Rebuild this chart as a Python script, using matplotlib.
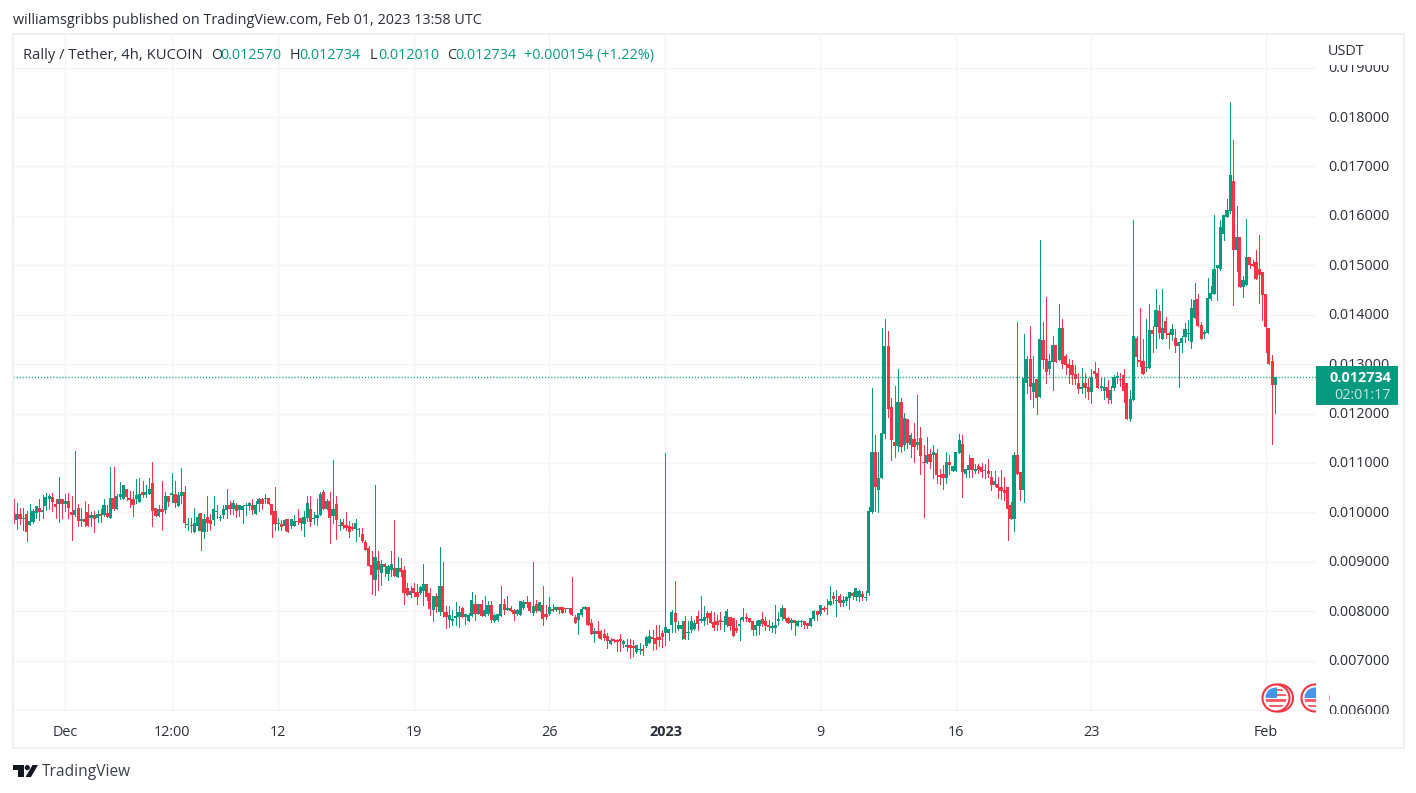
import pandas as pd
import matplotlib
matplotlib.use('Agg')
import matplotlib.pyplot as plt
from matplotlib.patches import Circle, Rectangle, Polygon
from matplotlib.transforms import ScaledTranslation

# 4h candles, prices in millionths of USDT
opens = [
    10020,9840,9960,9860,9960,9740,9800,9990,10090,10000,
    10120,10260,10320,10160,10160,10280,10160,10220,10000,9940,
    10080,9820,9860,10000,9880,9940,9880,9960,9940,9980,
    9880,10300,10060,10310,10280,10470,10300,10260,10280,10200,
    10420,10360,10380,10590,10080,9920,10060,10040,10340,10360,
    10380,10120,10340,10420,9740,9740,9600,9720,9980,9600,
    9900,9840,9840,10000,
    9880,9940,10040,10140,10060,10150,10040,10040,10120,10120,
    10140,9960,10160,10280,10260,10300,10160,10020,9770,9770,
    9720,9860,9720,9720,9810,9880,9760,9880,10060,9870,
    9880,9940,10420,10060,10220,9920,10160,9720,9800,9740,
    9720,9700,9660,9650,9570,9410,9270,8930,8640,9010,
    8780,8950,8760,8830,8870,8700,8870,8830,8460,8320,
    8460,8380,8360,8400,8540,8360,8020,8300,
    7975,8500,7975,7813,7793,7854,7874,8056,7874,7793,
    7895,8138,7935,8138,7895,7935,8117,7793,7813,7895,
    8138,8016,8056,8016,7935,7915,8056,8178,8178,7955,
    8138,7996,8117,7935,7935,8036,8016,8077,8077,8056,
    8036,8056,7874,7813,7915,8036,8077,7753,7530,7591,
    7591,7530,7489,7328,7429,7408,7429,7328,7267,7307,
    7287,7165,7206,7226,7287,7348,7469,7449,7469,
    7550,7550,7550,7712,7955,7631,7631,7793,7557,7611,
    7631,7895,7793,7793,7955,7955,7773,7793,7813,7773,
    7712,7874,7854,7651,7692,7813,7874,7854,7793,7611,
    7692,7834,7793,7712,7652,7652,7793,7874,8056,7854,
    7753,7813,7692,7773,7793,7753,7692,7834,7996,7935,
    8056,8056,8117,8299,8198,8299,8158,8198,8259,8360,
    8279,8279,8340,8259,8360,
    9998,11212,10443,10686,11577,13359,12124,11415,11334,12225,
    11354,11881,11354,11476,11354,11496,11010,10990,11172,11152,
    11192,10747,10767,10686,11010,10828,10828,11192,11375,10767,
    10848,11091,10828,10929,10909,10828,10828,10706,10544,10564,
    10504,10443,10504,10139,9856,11152,10807,10443,
    12609,13095,12427,12690,12326,13480,13095,12893,13034,13379,
    13075,13723,13156,12994,12974,12791,12609,12488,12609,12528,
    12427,12852,12812,12508,12447,12528,12265,12508,12710,12690,
    12771,12609,11880,12265,13520,13075,13055,12913,12913,13682,
    13743,
    14066,13499,13864,13621,13580,13520,13358,13418,13540,13600,
    13439,13924,14309,13782,13614,13621,14309,14410,14937,14917,
    15626,15970,16091,16699,15301,15565,14552,14593,15160,15018,
    15058,14917,14856,14410,13722,13054,12570,
]
highs = [
    10260,10180,10090,10090,10020,10170,10060,10120,10260,10360,
    10400,10380,10400,10280,10710,10280,10380,10400,10340,11250,
    10160,10090,10220,10160,10000,10020,10040,10060,10280,10140,
    10910,10910,10380,10610,10550,10470,10440,10440,10670,10690,
    10630,10550,10690,11010,10080,10140,10630,10420,10340,10790,
    10630,10420,10890,10530,9890,9880,10090,9960,9980,9960,
    10340,9960,10340,10140,
    9940,10140,10480,10220,10240,10180,10140,10140,10180,10210,
    10280,10220,10300,10300,10380,10300,10160,10520,9880,9840,
    9860,9860,9860,9940,10060,9880,10020,10340,10340,10000,
    10280,10420,10460,10280,10420,11050,10340,9860,9860,10000,
    9820,9780,9860,9680,9680,9450,9310,9210,10550,9210,
    9030,8970,8930,9210,9840,9090,9070,8910,8580,8500,
    8580,8540,8500,8950,8560,8460,8300,8360,
    9300,9000,8100,8097,8016,8178,8097,8077,7935,7955,
    8380,8320,8138,8219,8300,8198,8198,7935,7935,8502,
    8239,8300,8097,8036,8036,8198,8218,8300,8178,8988,
    8219,8178,8502,8117,8279,8138,8077,8077,8077,8056,
    8056,8684,7915,7955,8077,8097,8077,7834,7652,7793,
    7611,7631,7550,7449,7429,7429,7530,7408,7429,7429,
    7408,7307,7348,7307,7489,7611,7611,7712,7712,
    7611,11210,7631,8016,8603,7793,7793,7895,7793,7895,
    7813,7996,8299,8097,7996,7996,7976,7915,7976,7895,
    8036,7874,7854,7813,7854,8056,7955,7854,7793,7793,
    7813,7976,7874,7813,7773,8117,7976,8117,8056,7874,
    7854,7813,7813,7813,7793,7753,7854,8016,7996,8117,
    8097,8239,8502,8380,8421,8340,8299,8299,8380,8380,
    8461,8421,8400,8400,10099,
    12508,11557,11212,13724,13906,13663,12306,12549,12893,12306,
    12002,11881,11597,11800,12367,11719,11354,11516,11273,11354,
    11273,10868,10949,11212,11152,10929,11212,11577,11557,10868,
    11152,11091,10969,10969,10989,10969,11071,10828,10828,10706,
    10848,10706,10504,10200,11212,13845,10807,13602,
    13156,13763,13156,12690,15505,13845,14351,13196,13561,13379,
    14209,13905,13196,13095,13075,12974,12812,12913,12812,12710,
    12893,13034,12913,12710,12710,12670,12548,12771,12832,12812,
    12893,12609,12467,15910,13561,14128,13500,13905,14209,13763,
    14513,
    14188,14512,13945,13641,13803,13702,13439,13560,13823,13884,
    14309,14633,14410,13843,13681,14734,14572,16010,15000,15909,
    16010,16334,18298,17529,16192,15565,14775,15929,15160,15099,
    15301,15605,14856,14410,13722,13175,12734,
]
lows = [
    9780,9660,9770,9640,9430,9740,9780,9890,9840,9890,
    10040,10070,10020,9890,9800,9880,10020,9890,9450,9920,
    9720,9720,9720,9720,9720,9610,9800,9800,9920,9900,
    9880,10040,10070,10280,10280,10240,10100,9920,10180,10200,
    10310,10310,10380,9720,9920,9920,9650,9980,10120,10200,
    10100,10120,10180,9700,9640,9600,9600,9640,9230,9490,
    9620,9640,9740,9880,
    9840,9890,9890,9960,9960,9900,9920,9780,9940,10040,
    9960,9960,10020,10060,10180,10160,9510,9640,9640,9640,
    9640,9610,9680,9720,9770,9640,9530,9820,9720,9770,
    9740,9940,10060,10060,9370,9780,9470,9640,9680,9640,
    9510,9640,9430,9530,9390,9230,8910,8340,8320,8420,
    8520,8720,8640,8720,8720,8700,8720,8140,8320,8280,
    8300,8140,8340,8120,8220,7930,7810,7990,
    7915,7895,7650,7672,7712,7712,7672,7874,7733,7793,
    7895,7813,7935,7895,7895,7915,7773,7773,7793,7895,
    7935,8016,7996,7813,7915,7915,8036,8083,7975,7915,
    7975,7996,7712,7834,7915,7996,7996,7955,7955,7975,
    7975,7915,7753,7530,7895,8036,7712,7530,7368,7469,
    7429,7408,7246,7328,7368,7186,7186,7267,7186,7044,
    7085,7145,7125,7105,7267,7348,7206,7226,7300,
    7273,7307,7408,7570,7570,7611,7429,7429,7429,7570,
    7611,7611,7773,7712,7746,7753,7611,7611,7631,7590,
    7692,7611,7489,7570,7408,7793,7793,7773,7510,7510,
    7530,7692,7611,7611,7570,7550,7712,7814,7814,7753,
    7631,7510,7692,7692,7652,7652,7692,7814,7814,7915,
    7996,7935,8117,8158,7895,8097,8097,8117,8036,8239,
    8218,8198,8218,8218,8320,
    9977,10018,9998,10686,11496,11921,11050,11111,11233,11213,
    11253,11294,11111,11010,11273,10767,9896,10990,10889,10686,
    10585,10564,10463,10585,10767,10828,10828,11192,10301,10706,
    10706,10706,10787,10787,10706,10686,10706,10443,10524,10281,
    10261,10241,9431,9856,9613,10767,10240,10200,
    12407,12285,12123,11996,12326,12913,12609,12792,12467,13034,
    13075,12913,12792,12609,12589,12589,12407,12407,12326,12285,
    12204,12710,12508,12467,12285,12204,12204,12467,12609,12549,
    12225,11880,11840,12265,12954,12954,12791,12852,12913,13236,
    13317,
    13520,13499,13520,13317,13479,13236,12527,13236,13439,13479,
    13317,13924,13762,13499,13519,13621,14289,14410,14289,14896,
    15504,15970,16051,14188,14876,14552,14349,14593,14937,14977,
    14714,14228,13884,13236,12993,11393,12010,
]
closes = [
    9940,9970,9860,9890,9600,9820,10020,10120,10000,10040,
    10320,10340,10200,10100,10280,10160,10220,10080,9940,10040,
    9820,9860,9800,9720,9940,9860,9960,9920,10140,9900,
    10300,10060,10340,10380,10550,10320,10240,10140,10360,10380,
    10360,10420,10480,10020,9920,10060,10000,10340,10200,10380,
    10180,10360,10420,9780,9760,9720,9780,9900,9620,9860,
    9780,9760,10060,10020,
    9890,10060,10140,10060,10180,10020,10140,10120,10140,10180,
    10040,10150,10280,10160,10300,10160,9940,9770,9780,9700,
    9840,9610,9860,9820,9800,9780,9900,10180,9800,9880,
    9940,10380,10060,10220,9880,10060,9840,9740,9720,9680,
    9610,9660,9780,9660,9430,9230,8910,8740,9090,8830,
    8950,8890,8910,8950,8720,8870,8800,8360,8320,8400,
    8360,8280,8480,8540,8280,8040,8300,8080,
    8500,7975,7875,7915,7834,7895,7975,7874,7935,7915,
    8219,7935,8138,7895,8016,8117,7813,7915,7935,8138,
    8016,8056,7996,7935,8016,8198,8178,8138,7996,8097,
    7996,8178,7834,7874,8077,7996,8077,8016,7955,8036,
    8056,7915,7753,7955,8036,8077,7712,7530,7591,7530,
    7429,7449,7388,7408,7388,7368,7388,7388,7307,7246,
    7246,7307,7226,7186,7469,7489,7429,7328,7408,
    7469,7672,7631,7976,7773,7712,7712,7429,7570,7793,
    7753,7733,7834,7874,7854,7753,7652,7712,7773,7793,
    7996,7692,7489,7591,7733,7874,7834,7773,7611,7712,
    7813,7733,7692,7672,7692,7712,7834,8056,7834,7753,
    7813,7753,7793,7793,7712,7692,7854,7996,7915,8117,
    8016,8036,8198,8239,8218,8158,8218,8279,8380,8299,
    8461,8400,8279,8279,10018,
    11212,10504,10686,11597,13359,12083,11456,11334,12225,11314,
    11901,11395,11557,11314,11415,11132,10996,11152,11010,11212,
    10747,10706,10686,11010,10949,10929,11212,11456,10808,10868,
    10949,10848,10868,10848,10808,10828,10767,10544,10625,10484,
    10423,10382,10058,9856,11152,10767,10443,12711,
    13095,12528,12609,12305,13500,13075,12832,13055,13379,13034,
    13723,12994,12974,12913,12771,12690,12488,12528,12508,12427,
    12731,12791,12508,12548,12528,12305,12467,12731,12751,12670,
    12447,11880,12285,13561,13135,13034,12791,12933,13682,13601,
    14088,
    13621,13722,13621,13580,13702,13358,13439,13520,13702,13600,
    14127,14289,13762,13499,13641,14329,14431,14917,14998,15767,
    16010,16111,16820,15301,15565,14552,14694,15160,14998,14977,
    14714,14795,14390,13742,12993,12568,12734,
]

tick_dates = ['2022-12-01', '2022-12-06 12:00', '2022-12-12', '2022-12-19', '2022-12-26',
              '2023-01-01', '2023-01-09', '2023-01-16', '2023-01-23', '2023-02-01']
tick_labels = ['Dec', '12:00', '12', '19', '26', '2023', '9', '16', '23', 'Feb']
price_ticks = [0.006, 0.007, 0.008, 0.009, 0.010, 0.011, 0.012, 0.013, 0.014, 0.015, 0.016, 0.017, 0.018, 0.019]
last_price = 0.012734

GREEN = '#089981'
RED = '#F23645'
GRID = '#f2f4f8'
FRAME = '#eef0f6'
TEXT = '#2a2e39'
FS = 10.35

plt.rcParams['font.family'] = 'Open Sans'

dates = pd.date_range('2022-11-28 08:00', periods=len(opens), freq='4h')
df = pd.DataFrame({'o': opens, 'h': highs, 'l': lows, 'c': closes}, index=dates) * 1e-6
df['x'] = range(len(df))
up = df[df.c >= df.o]
down = df[df.c < df.o]

W, H = 1416, 793
fig = plt.figure(figsize=(W / 100, H / 100), dpi=100, facecolor='white')
ax = fig.add_axes([13 / W, (H - 711) / H, 1303 / W, 677 / H])
ax.set_xlim(-0.186, 403.6)
ax.set_ylim(0.00598, 0.01968)
for s in ax.spines.values():
    s.set_visible(False)

# candles
min_body = 0.000022
for part, col in ((up, GREEN), (down, RED)):
    ax.vlines(part.x, part.l, part.h, color=col, lw=0.72, zorder=3, antialiased=False)
    ax.bar(part.x, (part.c - part.o).abs().clip(lower=min_body), bottom=part[['o', 'c']].min(axis=1),
           width=0.98, color=col, linewidth=0, zorder=4, antialiased=False)

ax.axhline(last_price, color=GREEN, lw=1, linestyle=(0, (0.8, 1.4)), zorder=5)

# axes and grid
ax.set_xticks([dates.get_loc(pd.Timestamp(d)) for d in tick_dates])
ax.set_xticklabels(tick_labels)
ax.yaxis.tick_right()
ax.set_yticks(price_ticks)
ax.set_yticklabels(['%.6f' % p for p in price_ticks])
ax.grid(True, color=GRID, lw=1, zorder=0)
ax.set_axisbelow(True)
ax.tick_params(axis='both', length=0, labelsize=FS, labelcolor=TEXT)
ax.tick_params(axis='y', pad=9)
ax.tick_params(axis='x', pad=10)
ax.get_xticklabels()[5].set_fontweight('bold')
for lab in ax.get_yticklabels():
    lab.set_transform(lab.get_transform() + ScaledTranslation(0, 1 / 100, fig.dpi_scale_trans))

# overlay in pixels for frame, badge, legend
ov = fig.add_axes([0, 0, 1, 1], facecolor='none')
ov.set_xlim(0, W)
ov.set_ylim(H, 0)
ov.axis('off')
ov.add_patch(Rectangle((13, 34), 1391, 714, fill=False, ec=FRAME, lw=1.5))
# price scale is cut off at both ends
ov.add_patch(Rectangle((1318, 57), 84, 8, fc='white', ec='none', zorder=1))
ov.add_patch(Rectangle((1318, 713.5), 84, 10, fc='white', ec='none', zorder=1))


def flag(cx, cy, rings):
    for dx in rings:
        ov.add_patch(Circle((cx + dx, cy), 13.5, fc='white', ec=RED, lw=1.5, zorder=2))
    disc = Circle((cx, cy), 10.5, fc='white', ec='none', zorder=2)
    ov.add_patch(disc)
    for k in range(4):
        s = Rectangle((cx - 11, cy - 9 + k * 5.2), 22, 2.2, fc='#f0616d', ec='none', zorder=3)
        ov.add_patch(s)
        s.set_clip_path(disc)
    b = Rectangle((cx - 11, cy - 11), 11.5, 11, fc='#4a94e8', ec='none', zorder=4)
    ov.add_patch(b)
    b.set_clip_path(disc)


flag(1276, 698, (3.5, 0))
flag(1315, 698, (0,))
ov.add_patch(Rectangle((1316, 680), 13, 37, fc='white', ec='none', zorder=5))

# price badge
ov.add_patch(Rectangle((1316, 366), 81.5, 38.5, fc=GREEN, ec='none', zorder=6))
ov.text(1391, 377.5, '0.012734', color='white', fontsize=FS, fontweight='bold', ha='right', va='center', zorder=7)
ov.text(1391, 395.5, '02:01:17', color='#c4e6df', fontsize=FS, ha='right', va='center', zorder=7)

ov.text(1328, 51.5, 'USDT', color=TEXT, fontsize=FS, ha='left', va='center')

# header
ov.text(13, 20.5, 'williamsgribbs published on TradingView.com, Feb 01, 2023 13:58 UTC',
        color=TEXT, fontsize=FS, ha='left', va='center')
ov.text(23, 55.5, 'Rally / Tether, 4h, KUCOIN', color=TEXT, fontsize=10.6, ha='left', va='center')
for lx, letter, vx, val in ((211, 'O', 220, '0.012570'), (290, 'H', 299, '0.012734'),
                            (370, 'L', 378, '0.012010'), (447, 'C', 455, '0.012734')):
    ov.text(lx, 55.5, letter, color=TEXT, fontsize=FS, ha='left', va='center')
    ov.text(vx, 55.5, val, color=GREEN, fontsize=FS, ha='left', va='center')
ov.text(524, 55.5, '+0.000154 (+1.22%)', color=GREEN, fontsize=FS, ha='left', va='center')

# logo
LOGO = '#131722'
ov.add_patch(Polygon([(13, 765), (23.5, 765), (23.5, 777), (18, 777), (18, 770), (13, 770)], fc=LOGO, ec='none'))
ov.add_patch(Circle((27.3, 767.6), 2.6, fc=LOGO, ec='none'))
ov.add_patch(Polygon([(32.5, 765), (38, 765), (31, 777), (25.5, 777)], fc=LOGO, ec='none'))
ov.text(42, 772, 'TradingView', color='#3a3e4a', fontsize=11.2, ha='left', va='center')

fig.savefig('out.png', dpi=100)
